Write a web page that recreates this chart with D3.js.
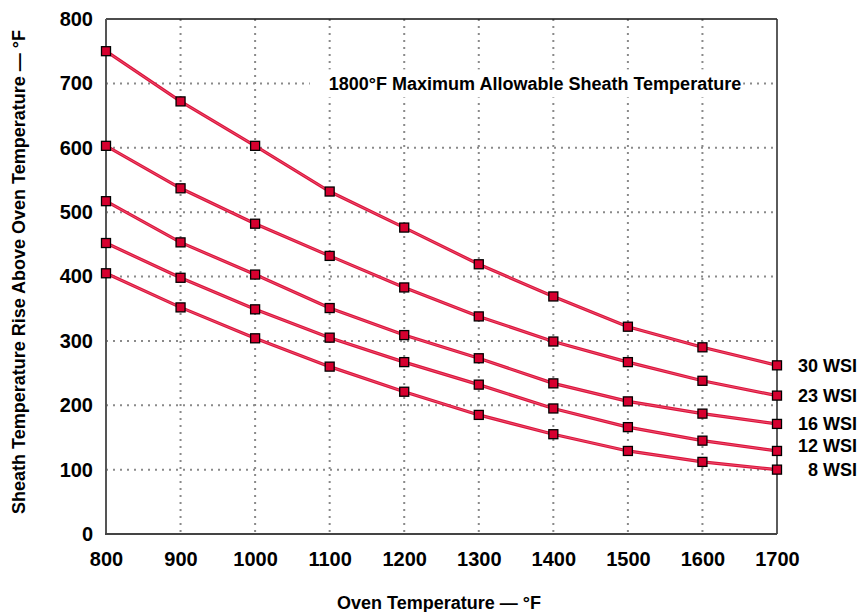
<!DOCTYPE html>
<html>
<head>
<meta charset="utf-8">
<script src="https://cdn.jsdelivr.net/npm/d3@7"></script>
<style>
  html, body { margin: 0; padding: 0; background: #fff; }
  svg { display: block; }
  text { font-family: "Liberation Sans", Arial, Helvetica, sans-serif; font-weight: bold; fill: #000; }
</style>
</head>
<body>
<svg id="chart" width="868" height="612"></svg>
<script>
// ---- data ----
const ovenTemps = [800, 900, 1000, 1100, 1200, 1300, 1400, 1500, 1600, 1700];
const seriesNames = ["30 WSI", "23 WSI", "16 WSI", "12 WSI", "8 WSI"];
const wsi30 = [750, 672, 603, 532, 476, 419, 369, 322, 290, 262];
const wsi23 = [603, 537, 482, 432, 383, 338, 299, 267, 238, 215];
const wsi16 = [517, 453, 403, 351, 309, 273, 234, 206, 187, 171];
const wsi12 = [452, 398, 349, 305, 267, 232, 195, 166, 145, 129];
const wsi8  = [405, 352, 304, 260, 221, 185, 155, 129, 112, 100];
const xTicks = [800, 900, 1000, 1100, 1200, 1300, 1400, 1500, 1600, 1700];
const yTicks = [0, 100, 200, 300, 400, 500, 600, 700, 800];
const annotationText = "1800\u00B0F Maximum Allowable Sheath Temperature";
const xTitle = "Oven Temperature \u2014 \u00B0F";
const yTitle = "Sheath Temperature Rise Above Oven Temperature \u2014 \u00B0F";

const seriesValues = [wsi30, wsi23, wsi16, wsi12, wsi8];
const labelNudge = [0, 0, 0, -5, 0];

// ---- layout ----
const svg = d3.select("#chart");
const x = d3.scaleLinear().domain([800, 1700]).range([106, 777]);
const y = d3.scaleLinear().domain([0, 800]).range([534, 19]);

// grid
const grid = svg.append("g")
  .attr("stroke", "#8a8a8a").attr("stroke-width", 2)
  .attr("stroke-dasharray", "2,5");
grid.selectAll("line.v").data(xTicks.slice(1, -1)).join("line")
  .attr("class", "v")
  .attr("x1", d => x(d)).attr("x2", d => x(d))
  .attr("y1", y(800)).attr("y2", y(0));
grid.selectAll("line.h").data(yTicks.slice(1, -1)).join("line")
  .attr("class", "h")
  .attr("x1", x(800)).attr("x2", x(1700))
  .attr("y1", d => y(d)).attr("y2", d => y(d));

// annotation with white backdrop
const annX = 535, annY = y(700);
const ann = svg.append("text")
  .attr("x", annX).attr("y", annY)
  .attr("dy", "0.35em")
  .attr("text-anchor", "middle")
  .attr("font-size", 18)
  .text(annotationText);
const bb = ann.node().getBBox();
svg.insert("rect", "text")
  .attr("x", bb.x - 19).attr("y", annY - 14)
  .attr("width", bb.width + 21).attr("height", 28)
  .attr("fill", "#fff");

// frame
svg.append("line").attr("x1", x(800)).attr("x2", x(1700)).attr("y1", y(800)).attr("y2", y(800))
  .attr("stroke", "#111").attr("stroke-width", 1.5);
svg.append("line").attr("x1", x(1700)).attr("x2", x(1700)).attr("y1", y(800)).attr("y2", y(0))
  .attr("stroke", "#333").attr("stroke-width", 1.6);
svg.append("line").attr("x1", x(800)).attr("x2", x(800)).attr("y1", y(800)).attr("y2", y(0))
  .attr("stroke", "#555").attr("stroke-width", 2);
svg.append("line").attr("x1", x(800) - 1).attr("x2", x(1700)).attr("y1", y(0)).attr("y2", y(0))
  .attr("stroke", "#444").attr("stroke-width", 2);

// axes
const yAxis = svg.append("g")
  .attr("transform", `translate(${x(800)},0)`)
  .call(d3.axisLeft(y).tickValues(yTicks).tickSize(0).tickPadding(13).tickFormat(d3.format("d")));
const xAxis = svg.append("g")
  .attr("transform", `translate(0,${y(0)})`)
  .call(d3.axisBottom(x).tickValues(xTicks).tickSize(0).tickPadding(18).tickFormat(d3.format("d")));
[yAxis, xAxis].forEach(a => {
  a.select(".domain").remove();
  a.selectAll("text").attr("font-size", 20).attr("font-family", null).attr("fill", "#000")
    .style("font-family", '"Liberation Sans", Arial, Helvetica, sans-serif').style("font-weight", "bold");
  a.attr("font-size", null).attr("font-family", null);
});

// lines
const line = d3.line().x((d, i) => x(ovenTemps[i])).y(d => y(d));
const series = svg.append("g");
seriesValues.forEach((vals, si) => {
  series.append("path").datum(vals).attr("d", line)
    .attr("fill", "none").attr("stroke", "#dc143c").attr("stroke-width", 3.2);
  series.append("path").datum(vals).attr("d", line)
    .attr("fill", "none").attr("stroke", "#f0607c").attr("stroke-width", 0.8);
});
seriesValues.forEach((vals, si) => {
  series.selectAll(null).data(vals).join("rect")
    .attr("x", (d, i) => x(ovenTemps[i]) - 4.5)
    .attr("y", d => y(d) - 4.5)
    .attr("width", 9).attr("height", 9)
    .attr("fill", "#d6002f").attr("stroke", "#000").attr("stroke-width", 1.3);
});

// series labels
svg.selectAll("text.slabel").data(seriesNames).join("text")
  .attr("class", "slabel")
  .attr("x", 857)
  .attr("y", (d, i) => y(seriesValues[i][seriesValues[i].length - 1]) + labelNudge[i])
  .attr("dy", "0.35em")
  .attr("text-anchor", "end")
  .attr("font-size", 18)
  .text(d => d);

// titles
svg.append("text").attr("x", 439).attr("y", 609)
  .attr("text-anchor", "middle").attr("font-size", 18).text(xTitle);
svg.append("text")
  .attr("transform", "translate(25,272) rotate(-90)")
  .attr("text-anchor", "middle").attr("font-size", 18).text(yTitle);
</script>
</body>
</html>
